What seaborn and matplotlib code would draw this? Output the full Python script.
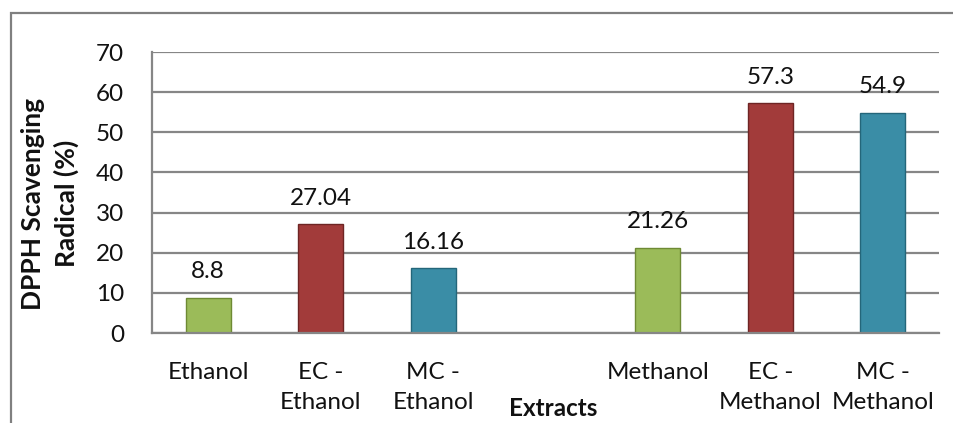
import matplotlib
matplotlib.use("Agg")
import matplotlib.pyplot as plt
from matplotlib.patches import Rectangle
import seaborn as sns
import pandas as pd

# data
categories = ['Ethanol', 'EC -\nEthanol', 'MC -\nEthanol', ' ',
              'Methanol', 'EC -\nMethanol', 'MC -\nMethanol']
extracts = ['Ethanol', 'EC -\nEthanol', 'MC -\nEthanol',
            'Methanol', 'EC -\nMethanol', 'MC -\nMethanol']
scavenging = [8.8, 27.04, 16.16, 21.26, 57.3, 54.9]
value_labels = ['8.8', '27.04', '16.16', '21.26', '57.3', '54.9']

df = pd.DataFrame({'extract': extracts, 'value': scavenging})

green, red, teal = '#9BBB59', '#A23B3A', '#3A8DA6'
palette = {'Ethanol': green, 'EC -\nEthanol': red, 'MC -\nEthanol': teal,
           'Methanol': green, 'EC -\nMethanol': red, 'MC -\nMethanol': teal}
edges = {green: '#6E8A34', red: '#6E2524', teal: '#24667A'}

sns.set_style("white")
plt.rcParams['font.family'] = ['Lato', 'DejaVu Sans']

fig = plt.figure(figsize=(9.54, 4.23), dpi=100)
ax = fig.add_axes([152 / 954, 1 - 333 / 423, 787 / 954, 281 / 423])

sns.barplot(data=df, x='extract', y='value', hue='extract', order=categories,
            hue_order=extracts, palette=palette, width=0.4, legend=False,
            saturation=1, ax=ax)

for patch in ax.patches:
    fc = matplotlib.colors.to_hex(patch.get_facecolor()).upper()
    patch.set_edgecolor(edges.get(fc, '#555555'))
    patch.set_linewidth(1)

# value labels above the bars
for cont in ax.containers:
    labs = []
    for bar in cont:
        h = bar.get_height()
        labs.append(value_labels[scavenging.index(h)] if h == h else '')
    ax.bar_label(cont, labels=labs, padding=11, fontsize=17.5, color='#111111')

ax.set_ylim(0, 70)
ax.set_yticks(range(0, 71, 10))
ax.set_xlim(-0.5, 6.5)
ax.yaxis.grid(True, color='#868686', linewidth=1.6)
ax.set_axisbelow(True)
for side in ['top', 'right']:
    ax.spines[side].set_visible(False)
for side in ['left', 'bottom']:
    ax.spines[side].set_color('#868686')
    ax.spines[side].set_linewidth(1.6)

ax.tick_params(axis='both', length=0, labelsize=17.5, labelcolor='#111111')
ax.tick_params(axis='y', pad=20)
ax.tick_params(axis='x', pad=21)
for lab in ax.get_xticklabels():
    lab.set_linespacing(1.5)

ax.set_xlabel('Extracts', fontsize=17.5, fontweight='bold', color='#111111')
ax.xaxis.label.set_va('center')
ax.xaxis.set_label_coords(0.51, -0.27)
ax.set_ylabel('DPPH Scavenging\nRadical (%)', fontsize=19, fontweight='bold',
              color='#111111', linespacing=1.4)
ax.yaxis.label.set_va('center')
ax.yaxis.set_label_coords(-0.13, 0.46)

# outer chart border (cropped at right and bottom)
fig.patches.append(Rectangle((11 / 954, -0.2), 1.2, 1 - 13 / 423 + 0.2,
                             transform=fig.transFigure, fill=False,
                             edgecolor='#808080', linewidth=1.6))

fig.savefig('out.png', dpi=100)
